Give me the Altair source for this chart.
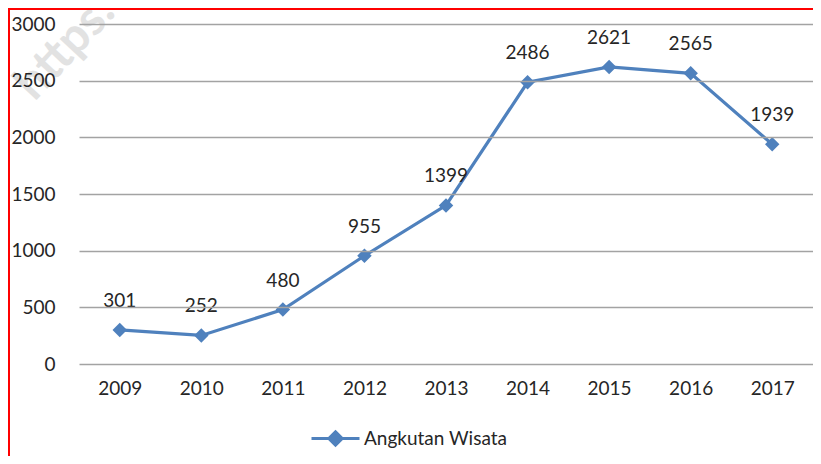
import altair as alt
import pandas as pd

years = ["2009", "2010", "2011", "2012", "2013", "2014", "2015", "2016", "2017"]
values = [301, 252, 480, 955, 1399, 2486, 2621, 2565, 1939]
series = ["Angkutan Wisata"] * len(years)

df = pd.DataFrame({"year": years, "value": values, "series": series})

FONT = "Lato"
BLUE = "#4F81BD"
TXT = "#262626"

legend = alt.Legend(
    title=None,
    orient="none",
    legendX=231,
    legendY=389,
    symbolType="M-1,0L1,0M0,-0.28L0.28,0L0,0.28L-0.28,0Z",
    symbolSize=2304,
    symbolStrokeWidth=3,
    symbolFillColor=BLUE,
    symbolStrokeColor=BLUE,
    labelFont=FONT,
    labelFontSize=19,
    labelColor=TXT,
    labelOffset=3,
)

x = alt.X("year:O", sort=years, scale=alt.Scale(type="point", padding=0.5),
          axis=alt.Axis(title=None, labelAngle=0, domain=False, ticks=False,
                        labelFont=FONT, labelFontSize=19, labelColor=TXT,
                        labelPadding=15, grid=False, zindex=1))
y = alt.Y("value:Q", scale=alt.Scale(domain=[0, 3000]),
          axis=alt.Axis(title=None, values=[0, 500, 1000, 1500, 2000, 2500, 3000],
                        format="d", domain=False, ticks=False, labelFont=FONT,
                        labelFontSize=19, labelColor=TXT, labelPadding=24, grid=True,
                        gridColor="#A3A3A3", gridWidth=1.6, zindex=1))
color = alt.Color("series:N", scale=alt.Scale(domain=["Angkutan Wisata"], range=[BLUE]),
                  legend=legend)

base = alt.Chart(df)

border = base.mark_rect(fill=None, stroke="#FF0000", strokeWidth=2, clip=False).encode(
    x=alt.value(-70), x2=alt.value(760), y=alt.value(-15), y2=alt.value(600)
).transform_filter(alt.datum.year == "2009")

watermark = base.mark_text(text="https:", font=FONT, fontSize=48, fontWeight="bold",
                           color="#E2E2E2", angle=313, align="right").encode(
    x=alt.value(28), y=alt.value(-20)
).transform_filter(alt.datum.year == "2009")

line = base.mark_line(strokeWidth=3.2).encode(x=x, y=y, color=color)
pts = base.mark_point(shape="diamond", filled=True, size=210, opacity=1).encode(
    x=x, y=y, color=color)
labels = base.mark_text(dy=-29, font=FONT, fontSize=19, color=TXT).encode(
    x=x, y=y, text="value:Q")

chart = alt.layer(watermark, line, pts, labels, border).properties(
    width=734, height=340,
    padding={"left": 71, "top": 16, "right": 0, "bottom": 92},
    autosize=alt.AutoSizeParams(type="none"),
    background="white",
).configure_view(stroke=None)

chart.save("out.html", embed_options={"renderer": "svg", "actions": False})
